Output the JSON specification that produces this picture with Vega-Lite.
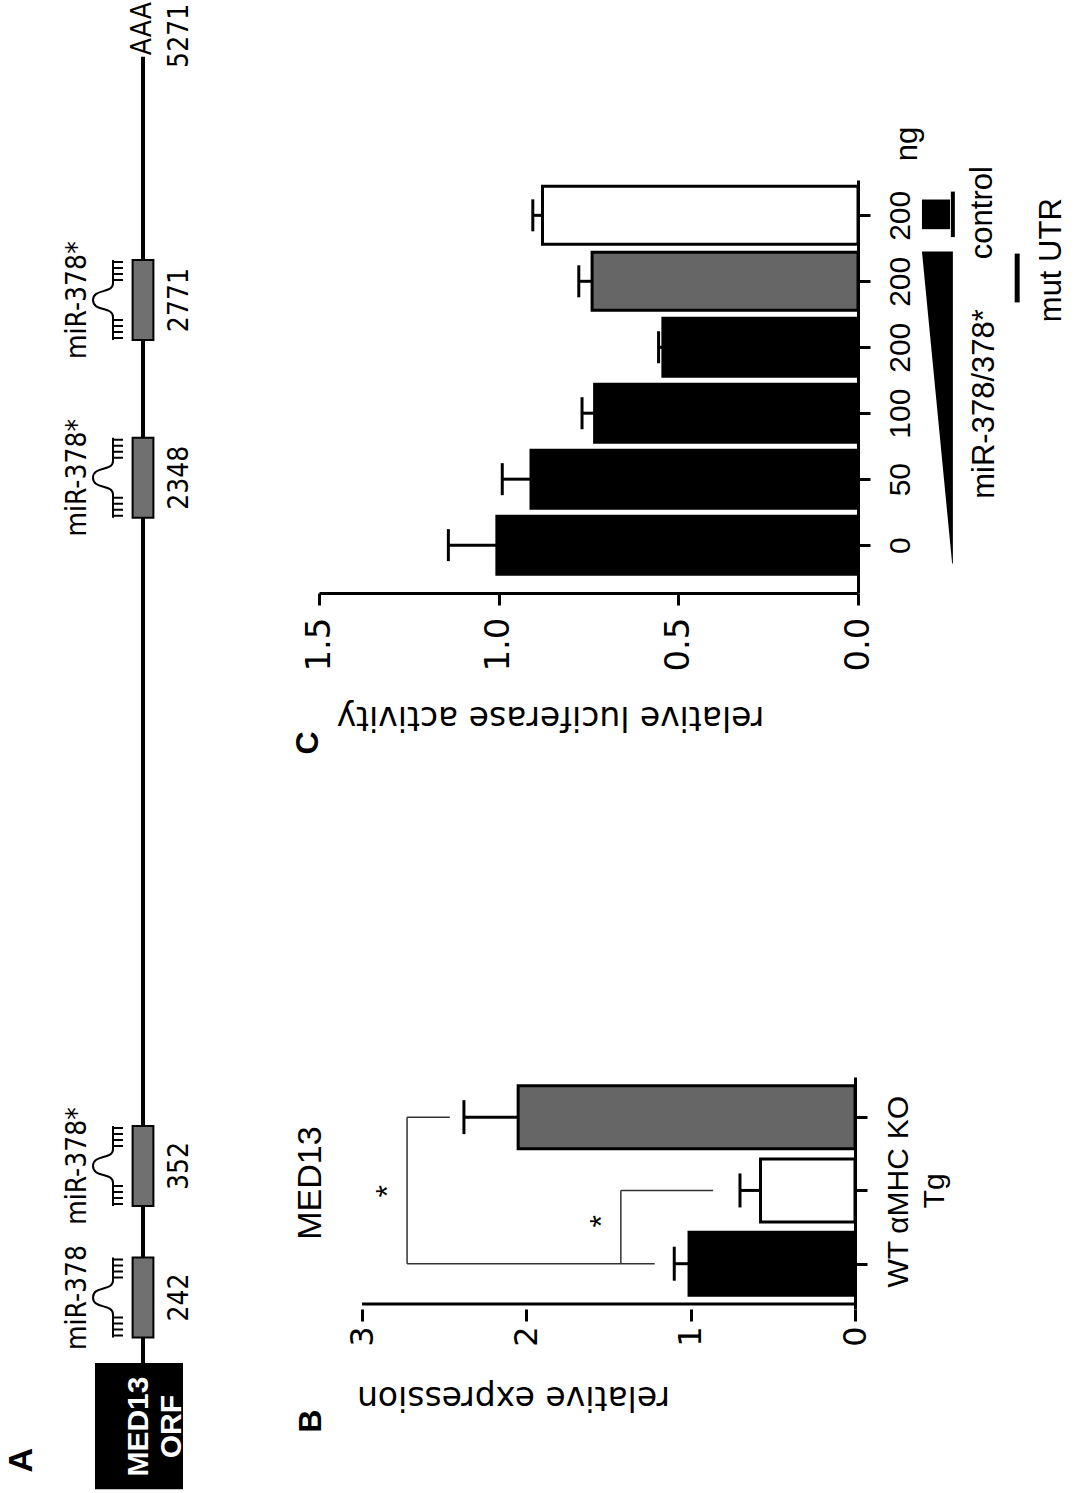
{
  "$schema": "https://vega.github.io/schema/vega-lite/v6.json",
  "padding": 0,
  "background": "white",
  "config": {
    "view": {"stroke": null},
    "font": "Liberation Sans",
    "axis": {"domainColor": "black", "domainWidth": 3, "tickColor": "black", "tickWidth": 3, "tickSize": 12, "labelColor": "black", "labelFontSize": 30, "titleFont": "DejaVu Sans", "titleFontSize": 33, "titleFontWeight": "normal", "titleColor": "black", "grid": false, "labelOverlap": false, "labelFlush": false, "labelBound": false},
    "text": {"color": "black"}
  },
  "datasets": {
    "sites": [
      {"site": "242", "mir": "miR-378", "pos": 13.1},
      {"site": "352", "mir": "miR-378*", "pos": 21.9},
      {"site": "2348", "mir": "miR-378*", "pos": 68.0},
      {"site": "2771", "mir": "miR-378*", "pos": 79.9}
    ],
    "med13": [
      {"group": "WT", "i": 0, "mean": 1.01, "upper": 1.10},
      {"group": "αMHC Tg", "i": 1, "mean": 0.575, "upper": 0.70},
      {"group": "KO", "i": 2, "mean": 2.05, "upper": 2.38}
    ],
    "luc": [
      {"ng": "0", "i": 0, "kind": "miR-378/378*", "mean": 1.005, "upper": 1.14},
      {"ng": "50", "i": 1, "kind": "miR-378/378*", "mean": 0.91, "upper": 0.99},
      {"ng": "100", "i": 2, "kind": "miR-378/378*", "mean": 0.733, "upper": 0.768},
      {"ng": "200", "i": 3, "kind": "miR-378/378*", "mean": 0.543, "upper": 0.555},
      {"ng": "200", "i": 4, "kind": "mut UTR", "mean": 0.74, "upper": 0.777},
      {"ng": "200", "i": 5, "kind": "control", "mean": 0.878, "upper": 0.905}
    ],
    "brackets": [
      {"v1": 2.726, "v2": 2.726, "g1": 0, "g2": 2},
      {"v1": 2.726, "v2": 1.219, "g1": 0, "g2": 0},
      {"v1": 2.726, "v2": 2.466, "g1": 2, "g2": 2},
      {"v1": 1.425, "v2": 1.425, "g1": 0, "g2": 1},
      {"v1": 1.425, "v2": 0.863, "g1": 1, "g2": 1}
    ],
    "stars": [{"v": 2.84, "g": 0.99}, {"v": 1.54, "g": 0.58}],
    "wedge": [{"g": -0.28, "a": -0.262, "b": -0.264}, {"g": 4.45, "a": -0.178, "b": -0.264}]
  },
  "concat": [
    {
      "width": 200,
      "height": 1493,
      "layer": [
        {
          "data": {"values": [{}]},
          "mark": {"type": "rule", "strokeWidth": 4, "color": "black"},
          "encoding": {
            "x": {"datum": 7.15, "type": "quantitative", "scale": {"domain": [0, 10], "nice": false, "zero": false}, "axis": null},
            "y": {"datum": 8.7, "type": "quantitative", "scale": {"domain": [0, 100], "nice": false, "zero": false}, "axis": null},
            "y2": {"datum": 96.2}
          }
        },
        {
          "data": {"values": [{}]},
          "mark": {"type": "rect", "color": "black"},
          "encoding": {
            "x": {"datum": 4.75, "type": "quantitative", "scale": {"domain": [0, 10], "nice": false, "zero": false}, "axis": null},
            "x2": {"datum": 9.15},
            "y": {"datum": 0.25, "type": "quantitative", "scale": {"domain": [0, 100], "nice": false, "zero": false}, "axis": null},
            "y2": {"datum": 8.7}
          }
        },
        {
          "data": {"values": [{}]},
          "mark": {"type": "text", "text": ["MED13", "ORF"], "angle": -90, "fontSize": 30, "fontWeight": "bold", "color": "white", "lineHeight": 33, "align": "center", "baseline": "middle"},
          "encoding": {
            "x": {"datum": 6.95, "type": "quantitative", "scale": {"domain": [0, 10], "nice": false, "zero": false}, "axis": null},
            "y": {"datum": 4.45, "type": "quantitative", "scale": {"domain": [0, 100], "nice": false, "zero": false}, "axis": null}
          }
        },
        {
          "data": {"name": "sites"},
          "mark": {"type": "point", "shape": "M-0.26,-1H0.26V1H-0.26Z", "size": 6400, "filled": true, "fill": "#707070", "stroke": "black", "strokeWidth": 2, "opacity": 1},
          "encoding": {
            "x": {"datum": 7.15, "type": "quantitative", "scale": {"domain": [0, 10], "nice": false, "zero": false}, "axis": null},
            "y": {"field": "pos", "type": "quantitative", "scale": {"domain": [0, 100], "nice": false, "zero": false}, "axis": null}
          }
        },
        {
          "data": {"name": "sites"},
          "mark": {"type": "point", "shape": "M0,-1V-0.42C0,-0.15 -0.5,-0.3 -0.5,0C-0.5,0.3 0,0.15 0,0.42V1M0,-0.95H0.25M0,-0.8H0.25M0,-0.65H0.25M0,-0.5H0.25M0,0.5H0.25M0,0.65H0.25M0,0.8H0.25M0,0.95H0.25", "size": 6400, "filled": false, "stroke": "black", "strokeWidth": 2, "opacity": 1},
          "encoding": {
            "x": {"datum": 5.65, "type": "quantitative", "scale": {"domain": [0, 10], "nice": false, "zero": false}, "axis": null},
            "y": {"field": "pos", "type": "quantitative", "scale": {"domain": [0, 100], "nice": false, "zero": false}, "axis": null}
          }
        },
        {
          "data": {"name": "sites"},
          "mark": {"type": "text", "angle": -90, "fontSize": 28, "font": "DejaVu Sans Condensed, Liberation Sans", "align": "center", "baseline": "middle"},
          "encoding": {
            "x": {"datum": 3.9, "type": "quantitative", "scale": {"domain": [0, 10], "nice": false, "zero": false}, "axis": null},
            "y": {"field": "pos", "type": "quantitative", "scale": {"domain": [0, 100], "nice": false, "zero": false}, "axis": null},
            "text": {"field": "mir"}
          }
        },
        {
          "data": {"name": "sites"},
          "mark": {"type": "text", "angle": -90, "fontSize": 28, "font": "DejaVu Sans Condensed, Liberation Sans", "align": "center", "baseline": "middle"},
          "encoding": {
            "x": {"datum": 9.0, "type": "quantitative", "scale": {"domain": [0, 10], "nice": false, "zero": false}, "axis": null},
            "y": {"field": "pos", "type": "quantitative", "scale": {"domain": [0, 100], "nice": false, "zero": false}, "axis": null},
            "text": {"field": "site"}
          }
        },
        {
          "data": {"values": [{}]},
          "mark": {"type": "text", "text": "AAA", "angle": -90, "fontSize": 28, "font": "DejaVu Sans Condensed, Liberation Sans", "align": "left", "baseline": "middle"},
          "encoding": {
            "x": {"datum": 7.15, "type": "quantitative", "scale": {"domain": [0, 10], "nice": false, "zero": false}, "axis": null},
            "y": {"datum": 96.3, "type": "quantitative", "scale": {"domain": [0, 100], "nice": false, "zero": false}, "axis": null}
          }
        },
        {
          "data": {"values": [{}]},
          "mark": {"type": "text", "text": "5271", "angle": -90, "fontSize": 28, "font": "DejaVu Sans Condensed, Liberation Sans", "align": "center", "baseline": "middle"},
          "encoding": {
            "x": {"datum": 9.0, "type": "quantitative", "scale": {"domain": [0, 10], "nice": false, "zero": false}, "axis": null},
            "y": {"datum": 97.6, "type": "quantitative", "scale": {"domain": [0, 100], "nice": false, "zero": false}, "axis": null}
          }
        },
        {
          "data": {"values": [{}]},
          "mark": {"type": "text", "text": "A", "angle": -90, "fontSize": 34, "fontWeight": "bold", "align": "center", "baseline": "middle"},
          "encoding": {
            "x": {"datum": 1.1, "type": "quantitative", "scale": {"domain": [0, 10], "nice": false, "zero": false}, "axis": null},
            "y": {"datum": 2.2, "type": "quantitative", "scale": {"domain": [0, 100], "nice": false, "zero": false}, "axis": null}
          }
        }
      ]
    },
    {
      "concat": [
        {"width": 1, "height": 126, "data": {"values": []}, "mark": "point"},
        {
          "width": 539,
          "height": 413,
          "layer": [
            {
              "data": {"name": "luc"},
              "mark": {"type": "bar", "orient": "horizontal", "size": 58, "stroke": "black", "strokeWidth": 3},
              "encoding": {
                "x": {"field": "mean", "type": "quantitative", "title": "relative luciferase activity", "scale": {"domain": [0, 1.5], "reverse": true, "nice": false, "zero": false},
                  "axis": {"orient": "bottom", "values": [0, 0.5, 1, 1.5], "format": ".1f", "labelAngle": -90, "labelAlign": "right", "labelBaseline": "middle", "labelFont": "DejaVu Sans", "labelFontSize": 34, "labelPadding": 12, "titleAngle": 180, "titleBaseline": "bottom", "titleAlign": "center", "titleX": 231, "titlePadding": 28}},
                "y": {"field": "i", "type": "quantitative", "title": null, "scale": {"domain": [-0.65, 5.46], "nice": false, "zero": false},
                  "axis": {"orient": "right", "values": [0, 1, 2, 3, 4, 5], "labelExpr": "['0','50','100','200','200','200'][datum.value]", "labelAngle": -90, "labelAlign": "center", "labelBaseline": "top", "labelFontSize": 30, "labelPadding": 15}},
                "color": {"field": "kind", "type": "nominal", "scale": {"domain": ["miR-378/378*", "mut UTR", "control"], "range": ["black", "#666666", "white"]}, "legend": null}
              }
            },
            {
              "data": {"name": "luc"},
              "mark": {"type": "rule", "strokeWidth": 3, "color": "black"},
              "encoding": {
                "x": {"field": "mean", "type": "quantitative", "title": "relative luciferase activity", "scale": {"domain": [0, 1.5], "reverse": true, "nice": false, "zero": false}},
                "x2": {"field": "upper"},
                "y": {"field": "i", "type": "quantitative", "title": null, "scale": {"domain": [-0.65, 5.46], "nice": false, "zero": false}}
              }
            },
            {
              "data": {"name": "luc"},
              "mark": {"type": "tick", "orient": "vertical", "size": 32, "thickness": 3, "color": "black", "opacity": 1},
              "encoding": {
                "x": {"field": "upper", "type": "quantitative", "title": "relative luciferase activity", "scale": {"domain": [0, 1.5], "reverse": true, "nice": false, "zero": false}},
                "y": {"field": "i", "type": "quantitative", "title": null, "scale": {"domain": [-0.65, 5.46], "nice": false, "zero": false}}
              }
            },
            {
              "data": {"name": "wedge"},
              "mark": {"type": "area", "orient": "horizontal", "color": "black", "opacity": 1},
              "encoding": {
                "y": {"field": "g", "type": "quantitative", "title": null, "scale": {"domain": [-0.65, 5.46], "nice": false, "zero": false}},
                "x": {"field": "a", "type": "quantitative", "title": "relative luciferase activity", "scale": {"domain": [0, 1.5], "reverse": true, "nice": false, "zero": false}},
                "x2": {"field": "b"}
              }
            },
            {
              "data": {"values": [{}]},
              "mark": {"type": "rect", "color": "black"},
              "encoding": {
                "x": {"datum": -0.178, "type": "quantitative", "scale": {"domain": [0, 1.5], "reverse": true, "nice": false, "zero": false}},
                "x2": {"datum": -0.256},
                "y": {"datum": 4.79, "type": "quantitative", "scale": {"domain": [-0.65, 5.46], "nice": false, "zero": false}},
                "y2": {"datum": 5.24}
              }
            },
            {
              "data": {"values": [{}]},
              "mark": {"type": "rule", "strokeWidth": 4, "color": "black"},
              "encoding": {
                "x": {"datum": -0.264, "type": "quantitative", "scale": {"domain": [0, 1.5], "reverse": true, "nice": false, "zero": false}},
                "y": {"datum": 4.67, "type": "quantitative", "scale": {"domain": [-0.65, 5.46], "nice": false, "zero": false}},
                "y2": {"datum": 5.36}
              }
            },
            {
              "data": {"values": [{}]},
              "mark": {"type": "rule", "strokeWidth": 5, "color": "black"},
              "encoding": {
                "x": {"datum": -0.443, "type": "quantitative", "scale": {"domain": [0, 1.5], "reverse": true, "nice": false, "zero": false}},
                "y": {"datum": 3.68, "type": "quantitative", "scale": {"domain": [-0.65, 5.46], "nice": false, "zero": false}},
                "y2": {"datum": 4.42}
              }
            },
            {
              "data": {"values": [{"t": "ng", "v": -0.139, "g": 6.08}, {"t": "miR-378/378*", "v": -0.353, "g": 2.14}, {"t": "control", "v": -0.348, "g": 5.04}, {"t": "mut UTR", "v": -0.54, "g": 4.32}]},
              "mark": {"type": "text", "angle": -90, "fontSize": 31, "align": "center", "baseline": "middle"},
              "encoding": {
                "x": {"field": "v", "type": "quantitative", "scale": {"domain": [0, 1.5], "reverse": true, "nice": false, "zero": false}},
                "y": {"field": "g", "type": "quantitative", "scale": {"domain": [-0.65, 5.46], "nice": false, "zero": false}},
                "text": {"field": "t"}
              }
            },
            {
              "data": {"values": [{}]},
              "mark": {"type": "text", "text": "C", "angle": -90, "fontSize": 32, "fontWeight": "bold", "align": "center", "baseline": "middle"},
              "encoding": {
                "x": {"datum": 1.53, "type": "quantitative", "scale": {"domain": [0, 1.5], "reverse": true, "nice": false, "zero": false}},
                "y": {"datum": -3.0, "type": "quantitative", "scale": {"domain": [-0.65, 5.46], "nice": false, "zero": false}}
              }
            }
          ]
        },
        {"width": 1, "height": 322, "data": {"values": []}, "mark": "point"},
        {
          "width": 536,
          "height": 232,
          "layer": [
            {
              "data": {"name": "med13"},
              "mark": {"type": "bar", "orient": "horizontal", "size": 63, "stroke": "black", "strokeWidth": 3},
              "encoding": {
                "x": {"field": "mean", "type": "quantitative", "title": "relative expression", "scale": {"domain": [0, 3.262], "reverse": true, "nice": false, "zero": false},
                  "axis": {"orient": "bottom", "values": [0, 1, 2, 3], "format": "d", "domain": false, "labelAngle": -90, "labelAlign": "right", "labelBaseline": "middle", "labelFont": "DejaVu Sans", "labelFontSize": 32, "labelPadding": 5, "titleAngle": 180, "titleBaseline": "bottom", "titleAlign": "center", "titleX": 194, "titlePadding": 33}},
                "y": {"field": "i", "type": "quantitative", "title": null, "scale": {"domain": [-0.55, 2.48], "nice": false, "zero": false},
                  "axis": {"orient": "right", "values": [0, 1, 2], "labelExpr": "datum.value == 0 ? 'WT' : (datum.value == 1 ? ['αMHC', 'Tg'] : 'KO')", "labelAngle": -90, "labelAlign": "center", "labelBaseline": "top", "labelFontSize": 30, "labelLineHeight": 36, "labelPadding": 16}},
                "fill": {"field": "group", "type": "nominal", "scale": {"domain": ["WT", "αMHC Tg", "KO"], "range": ["black", "white", "#666666"]}, "legend": null}
              }
            },
            {
              "data": {"values": [{}]},
              "mark": {"type": "rule", "strokeWidth": 3, "color": "black"},
              "encoding": {
                "x": {"datum": 0, "type": "quantitative", "scale": {"domain": [0, 3.262], "reverse": true, "nice": false, "zero": false}},
                "x2": {"datum": 3},
                "y": {"datum": -0.55, "type": "quantitative", "scale": {"domain": [-0.55, 2.48], "nice": false, "zero": false}}
              }
            },
            {
              "data": {"name": "med13"},
              "mark": {"type": "rule", "strokeWidth": 3, "color": "black"},
              "encoding": {
                "x": {"field": "mean", "type": "quantitative", "title": "relative expression", "scale": {"domain": [0, 3.262], "reverse": true, "nice": false, "zero": false}},
                "x2": {"field": "upper"},
                "y": {"field": "i", "type": "quantitative", "title": null, "scale": {"domain": [-0.55, 2.48], "nice": false, "zero": false}}
              }
            },
            {
              "data": {"name": "med13"},
              "mark": {"type": "tick", "orient": "vertical", "size": 34, "thickness": 3, "color": "black", "opacity": 1},
              "encoding": {
                "x": {"field": "upper", "type": "quantitative", "title": "relative expression", "scale": {"domain": [0, 3.262], "reverse": true, "nice": false, "zero": false}},
                "y": {"field": "i", "type": "quantitative", "title": null, "scale": {"domain": [-0.55, 2.48], "nice": false, "zero": false}}
              }
            },
            {
              "data": {"name": "brackets"},
              "mark": {"type": "rule", "strokeWidth": 1.5, "color": "#333333"},
              "encoding": {
                "x": {"field": "v1", "type": "quantitative", "title": "relative expression", "scale": {"domain": [0, 3.262], "reverse": true, "nice": false, "zero": false}},
                "x2": {"field": "v2"},
                "y": {"field": "g1", "type": "quantitative", "title": null, "scale": {"domain": [-0.55, 2.48], "nice": false, "zero": false}},
                "y2": {"field": "g2"}
              }
            },
            {
              "data": {"name": "stars"},
              "mark": {"type": "text", "text": "*", "angle": -90, "fontSize": 32, "align": "center", "baseline": "middle"},
              "encoding": {
                "x": {"field": "v", "type": "quantitative", "title": "relative expression", "scale": {"domain": [0, 3.262], "reverse": true, "nice": false, "zero": false}},
                "y": {"field": "g", "type": "quantitative", "title": null, "scale": {"domain": [-0.55, 2.48], "nice": false, "zero": false}}
              }
            },
            {
              "data": {"values": [{}]},
              "mark": {"type": "text", "text": "MED13", "angle": -90, "fontSize": 34, "align": "center", "baseline": "middle"},
              "encoding": {
                "x": {"datum": 3.31, "type": "quantitative", "scale": {"domain": [0, 3.262], "reverse": true, "nice": false, "zero": false}},
                "y": {"datum": 1.1, "type": "quantitative", "scale": {"domain": [-0.55, 2.48], "nice": false, "zero": false}}
              }
            },
            {
              "data": {"values": [{}]},
              "mark": {"type": "text", "text": "B", "angle": -90, "fontSize": 32, "fontWeight": "bold", "align": "center", "baseline": "middle"},
              "encoding": {
                "x": {"datum": 3.31, "type": "quantitative", "scale": {"domain": [0, 3.262], "reverse": true, "nice": false, "zero": false}},
                "y": {"datum": -2.15, "type": "quantitative", "scale": {"domain": [-0.55, 2.48], "nice": false, "zero": false}}
              }
            }
          ]
        }
      ],
      "columns": 1,
      "spacing": 0,
      "align": "none"
    }
  ],
  "columns": 2,
  "spacing": 92,
  "align": "none"
}
